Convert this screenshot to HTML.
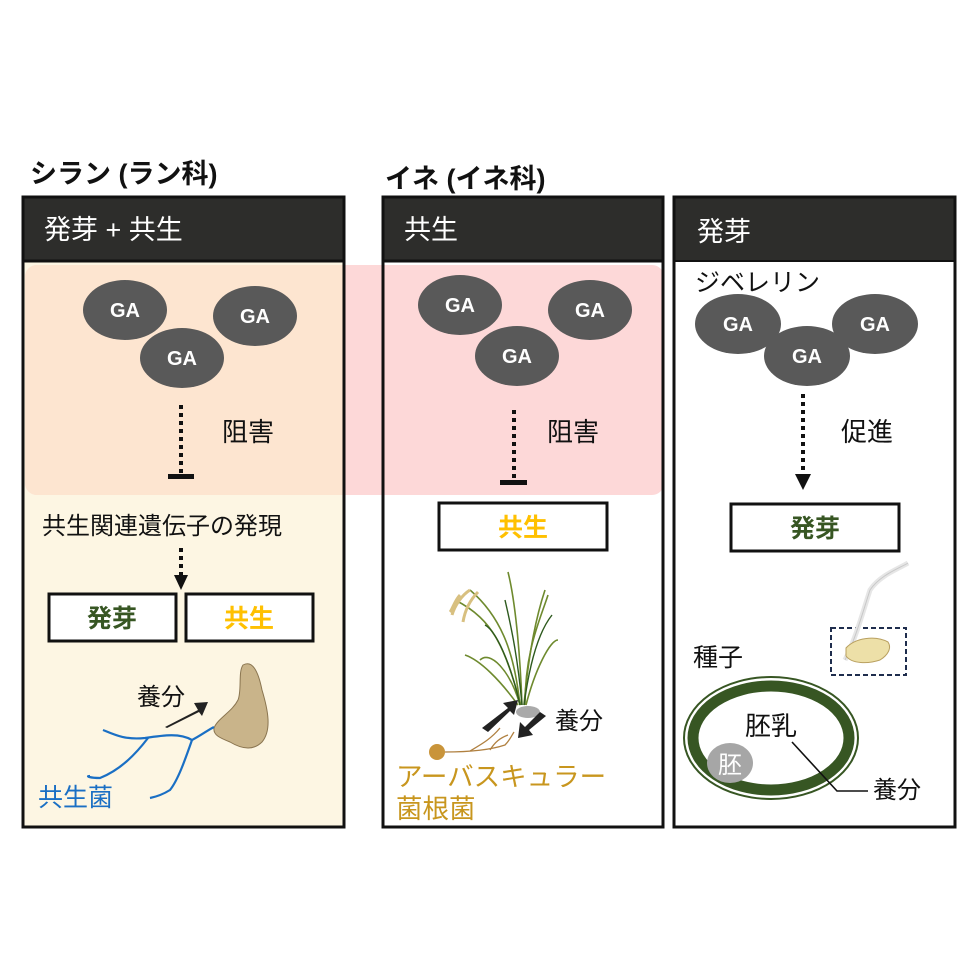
<!DOCTYPE html>
<html><head><meta charset="utf-8"><style>
html,body{margin:0;padding:0;background:#fff;}
svg{display:block;}
text{font-family:"Liberation Sans","Noto Sans CJK JP",sans-serif;}
</style></head><body>
<svg width="978" height="978" viewBox="0 0 978 978" xmlns="http://www.w3.org/2000/svg">
<rect width="978" height="978" fill="#fff"/>
<text x="30" y="183" font-size="27" font-weight="bold" fill="#111">シラン (ラン科)</text>
<text x="385" y="188" font-size="27" font-weight="bold" fill="#111">イネ (イネ科)</text>

<rect x="23" y="197" width="321" height="630" fill="#fdf6e3"/>
<rect x="383" y="197" width="280" height="630" fill="#fff"/>
<rect x="674" y="197" width="281" height="630" fill="#fff"/>
<rect x="25" y="265" width="639" height="230" rx="12" fill="#fdd8d8"/>
<path d="M37 265 H344 V495 H37 A12 12 0 0 1 25 483 V277 A12 12 0 0 1 37 265Z" fill="#fde5d0"/>

<rect x="23" y="197" width="321" height="64" fill="#2d2d2b"/>
<rect x="383" y="197" width="280" height="64" fill="#2d2d2b"/>
<rect x="674" y="197" width="281" height="64" fill="#2d2d2b"/>
<text x="44" y="239" font-size="27" fill="#fff">発芽 + 共生</text>
<text x="404" y="239" font-size="27" fill="#fff">共生</text>
<text x="697" y="241" font-size="27" fill="#fff">発芽</text>

<rect x="23" y="197" width="321" height="630" fill="none" stroke="#111" stroke-width="3"/>
<rect x="383" y="197" width="280" height="630" fill="none" stroke="#111" stroke-width="3"/>
<rect x="674" y="197" width="281" height="630" fill="none" stroke="#111" stroke-width="3"/>
<line x1="23" y1="261" x2="344" y2="261" stroke="#111" stroke-width="3"/>
<line x1="383" y1="261" x2="663" y2="261" stroke="#111" stroke-width="3"/>
<line x1="674" y1="261" x2="955" y2="261" stroke="#111" stroke-width="2"/>

<g fill="#595959">
<ellipse cx="125" cy="310" rx="42" ry="30"/>
<ellipse cx="255" cy="316" rx="42" ry="30"/>
<ellipse cx="182" cy="358" rx="42" ry="30"/>
<ellipse cx="460" cy="305" rx="42" ry="30"/>
<ellipse cx="590" cy="310" rx="42" ry="30"/>
<ellipse cx="517" cy="356" rx="42" ry="30"/>
<ellipse cx="738" cy="324" rx="43" ry="30"/>
<ellipse cx="875" cy="324" rx="43" ry="30"/>
<ellipse cx="807" cy="356" rx="43" ry="30"/>
</g>
<g fill="#fff" font-size="20" font-weight="bold" text-anchor="middle">
<text x="125" y="317">GA</text><text x="255" y="323">GA</text><text x="182" y="365">GA</text>
<text x="460" y="312">GA</text><text x="590" y="317">GA</text><text x="517" y="363">GA</text>
<text x="738" y="331">GA</text><text x="875" y="331">GA</text><text x="807" y="363">GA</text>
</g>

<g stroke="#111" stroke-width="4" stroke-dasharray="4 4" fill="none">
<line x1="181" y1="405" x2="181" y2="474"/>
<line x1="514" y1="410" x2="514" y2="480"/>
<line x1="803" y1="394" x2="803" y2="475"/>
<line x1="181" y1="548" x2="181" y2="575"/>
</g>
<rect x="168" y="474" width="26" height="5" fill="#111"/>
<rect x="500" y="480" width="27" height="5" fill="#111"/>
<path d="M795 474 L811 474 L803 490Z" fill="#111"/>
<path d="M174 575 L188 575 L181 590Z" fill="#111"/>
<text x="222" y="441" font-size="26" fill="#111">阻害</text>
<text x="547" y="441" font-size="26" fill="#111">阻害</text>
<text x="841" y="441" font-size="26" fill="#111">促進</text>
<text x="695" y="291" font-size="25" fill="#111">ジベレリン</text>

<text x="42" y="534" font-size="24" fill="#111">共生関連遺伝子の発現</text>

<g fill="#fff" stroke="#111" stroke-width="3">
<rect x="49" y="594" width="127" height="47"/>
<rect x="186" y="594" width="127" height="47"/>
<rect x="439" y="503" width="168" height="47"/>
<rect x="731" y="504" width="168" height="47"/>
</g>
<g font-size="25" font-weight="bold" text-anchor="middle">
<text x="112" y="627" fill="#375623">発芽</text>
<text x="249" y="627" fill="#ffc000">共生</text>
<text x="523" y="536" fill="#ffc000">共生</text>
<text x="815" y="537" fill="#375623">発芽</text>
</g>

<path d="M243 665 C252 660 258 670 262 690 C268 710 272 730 262 742 C252 752 240 748 230 742 C220 738 213 735 214 728 C218 718 232 712 238 700 C242 690 238 672 243 665Z" fill="#c9b48a" stroke="#8a7550" stroke-width="1"/>
<text x="137" y="705" font-size="24" fill="#111">養分</text>
<path d="M165 727 L198 710 L194 703 L208 702 L202 716 L199 712 L167 728Z" fill="#222"/>
<g stroke="#1a6fc4" stroke-width="2.2" fill="none">
<path d="M103 730 C115 735 125 740 145 738 C165 735 180 733 192 740 C200 736 208 730 214 727"/>
<path d="M148 738 C135 755 120 770 100 778 C90 778 85 776 90 776"/>
<path d="M192 740 C185 760 178 780 170 790 C162 795 155 797 150 798"/>
</g>
<text x="38" y="806" font-size="25" fill="#1a6fc4">共生菌</text>

<g stroke="#6e8a2e" stroke-width="1.6" fill="none">
<path d="M520 705 C515 660 505 620 470 590"/>
<path d="M522 705 C520 650 515 600 508 572"/>
<path d="M524 705 C528 660 535 620 545 590"/>
<path d="M526 705 C535 670 550 640 558 640"/>
<path d="M518 705 C500 680 480 660 465 655"/>
<path d="M521 705 C505 650 495 620 455 600"/>
<path d="M525 705 C525 650 540 620 548 595"/>
<path d="M520 705 C510 670 490 650 480 660"/>
</g>
<g stroke="#2e5a1e" stroke-width="1.4" fill="none">
<path d="M522 705 C518 660 512 630 505 600"/>
<path d="M524 705 C530 660 540 630 552 615"/>
<path d="M520 705 C510 660 495 630 485 625"/>
</g>
<g stroke="#d8c080" stroke-width="3" fill="none">
<path d="M470 590 C462 595 455 605 452 615"/>
<path d="M478 592 C470 600 465 610 463 622"/>
<path d="M460 595 C455 600 452 610 450 612"/>
</g>
<ellipse cx="528" cy="712" rx="12" ry="6" fill="#aaa"/>
<path d="M482 728 L508 708 L503 703 L518 700 L514 715 L510 711 L488 732Z" fill="#222"/>
<path d="M540 712 L525 727 L520 722 L518 738 L533 735 L529 730 L546 716Z" fill="#222"/>
<text x="555" y="729" font-size="24" fill="#111">養分</text>
<circle cx="437" cy="752" r="8" fill="#c9943a"/>
<g stroke="#b08040" stroke-width="1.3" fill="none">
<path d="M445 752 C470 752 490 750 505 745 C510 740 512 735 514 732"/>
<path d="M490 750 C495 742 500 738 508 735"/>
<path d="M470 751 C480 745 490 740 500 728"/>
</g>
<text x="396" y="786" font-size="26.5" fill="#c8961e">アーバスキュラー</text>
<text x="396" y="818" font-size="26.5" fill="#c8961e">菌根菌</text>

<text x="693" y="666" font-size="25" fill="#111">種子</text>
<ellipse cx="771" cy="738" rx="87" ry="61" fill="#fff" stroke="#375623" stroke-width="2"/>
<ellipse cx="771" cy="738" rx="78" ry="52" fill="none" stroke="#375623" stroke-width="11"/>
<ellipse cx="730" cy="763" rx="23" ry="20" fill="#a6a6a6"/>
<text x="730" y="773" font-size="24" fill="#fff" text-anchor="middle">胚</text>
<text x="745" y="735" font-size="26" fill="#111">胚乳</text>
<path d="M792 742 L837 791 L868 791" stroke="#111" stroke-width="1.6" fill="none"/>
<text x="873" y="798" font-size="24" fill="#111">養分</text>
<rect x="831" y="628" width="75" height="47" fill="none" stroke="#1f2d4d" stroke-width="2" stroke-dasharray="5 3"/>
<path d="M845 660 C855 640 862 615 870 590 C880 575 900 568 908 563" stroke="#e6e6e6" stroke-width="5" fill="none"/>
<path d="M845 660 C855 640 862 615 870 590 C880 575 900 568 908 563" stroke="#c8c8c8" stroke-width="1" fill="none"/>
<path d="M846 648 C855 638 875 635 888 642 C892 648 888 655 880 660 C868 664 852 664 846 656Z" fill="#ede0a8" stroke="#b9a060" stroke-width="1"/>
</svg>
</body></html>
